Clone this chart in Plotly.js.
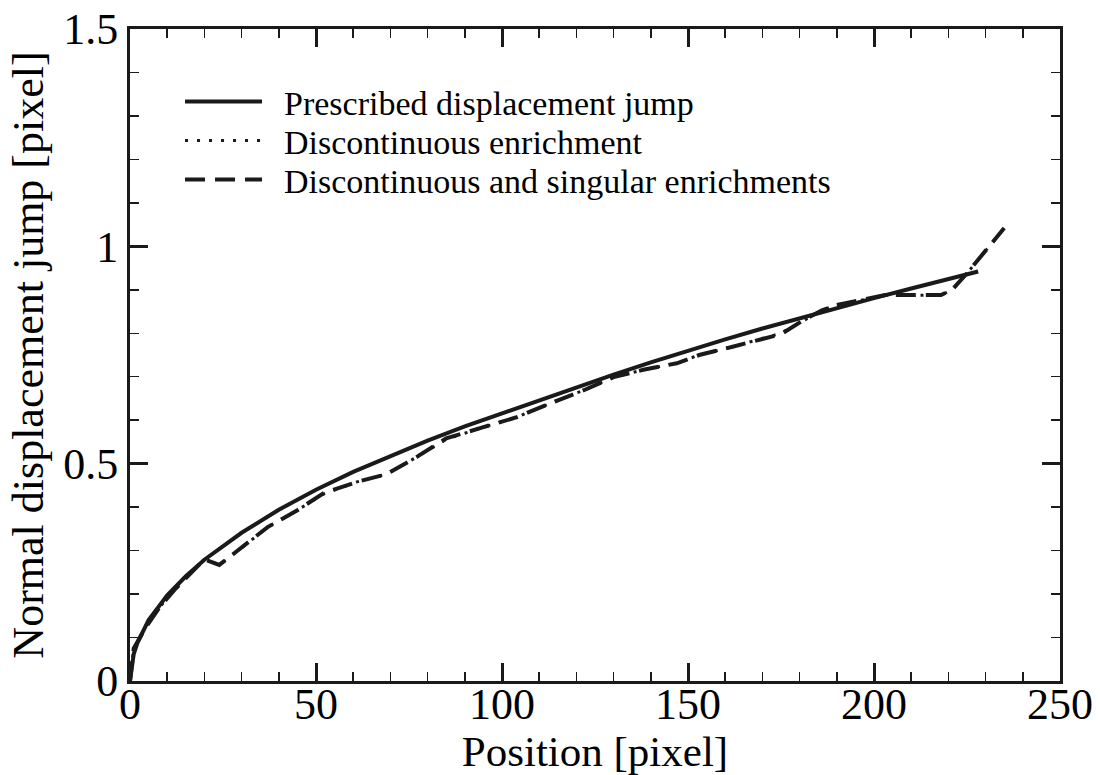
<!DOCTYPE html>
<html>
<head>
<meta charset="utf-8">
<script src="https://cdn.plot.ly/plotly-3.0.1.min.js"></script>
<style>html,body{margin:0;padding:0;background:#fff;}#chart{width:1100px;height:775px;}</style>
</head>
<body>
<div id="chart"></div>
<script>
// Prescribed displacement jump (solid)
const prescribedX = [0, 1, 2, 5, 10, 15, 20, 30, 40, 50, 60, 70, 80, 90, 100, 110, 120, 130, 140, 150, 160, 170, 180, 190, 200, 210, 220, 228];
const prescribedY = [0, 0.062, 0.088, 0.14, 0.197, 0.241, 0.279, 0.341, 0.394, 0.44, 0.481, 0.518, 0.553, 0.586, 0.616, 0.647, 0.677, 0.705, 0.733, 0.76, 0.786, 0.811, 0.835, 0.858, 0.881, 0.903, 0.924, 0.942];

// Discontinuous enrichment (dotted)
const discX = [0, 1, 4, 8, 12, 16, 20, 24, 30, 37, 45, 52, 61, 69, 77, 85, 95, 104, 113, 122, 130, 138, 147, 153, 162, 175, 181, 186, 190, 203, 218, 221, 225, 235];
const discY = [0, 0.075, 0.12, 0.17, 0.21, 0.245, 0.28, 0.267, 0.306, 0.354, 0.393, 0.43, 0.458, 0.476, 0.515, 0.556, 0.584, 0.607, 0.639, 0.669, 0.699, 0.716, 0.731, 0.75, 0.769, 0.8, 0.83, 0.853, 0.865, 0.887, 0.888, 0.9, 0.938, 1.042];

// Discontinuous and singular enrichments (dashed)
const singX = [0, 1, 4, 8, 12, 16, 20, 24, 30, 37, 45, 52, 61, 69, 77, 85, 95, 104, 113, 122, 130, 138, 147, 153, 162, 175, 181, 186, 190, 203, 218, 221, 225, 235];
const singY = [0, 0.075, 0.12, 0.17, 0.21, 0.245, 0.28, 0.267, 0.306, 0.354, 0.393, 0.432, 0.458, 0.476, 0.515, 0.558, 0.584, 0.607, 0.639, 0.669, 0.699, 0.716, 0.731, 0.75, 0.769, 0.798, 0.83, 0.853, 0.865, 0.888, 0.888, 0.9, 0.938, 1.042];

const seriesNames = ["Prescribed displacement jump", "Discontinuous enrichment", "Discontinuous and singular enrichments"];
const xTicks = [0, 50, 100, 150, 200, 250];
const yTicks = [0, 0.5, 1, 1.5];
const yTickLabels = ["0", "0.5", "1", "1.5"];

const ink = "#1a1a1a";
const font = "Liberation Serif";
const pad = "\u00a0\u00a0";

const traces = [
  {x: prescribedX, y: prescribedY, name: pad + seriesNames[0], legend: "legend", mode: "lines", line: {color: ink, width: 4, dash: "solid"}},
  {x: discX, y: discY, name: pad + seriesNames[1], legend: "legend2", mode: "lines", line: {color: ink, width: 3, dash: "3px,9px"}},
  {x: singX, y: singY, name: pad + seriesNames[2], legend: "legend3", mode: "lines", line: {color: ink, width: 4, dash: "20px,10px"}}
];

const axisCommon = {
  showgrid: false, zeroline: false, showline: true, linecolor: ink, linewidth: 3,
  mirror: "ticks", ticks: "inside", ticklen: 18, tickwidth: 3, tickcolor: ink,
  tickfont: {family: font, size: 44, color: "#000"},
  minor: {ticks: "inside", ticklen: 9, tickwidth: 1.5, tickcolor: ink}
};

function legendAt(yPos) {
  return {x: 0.0538, y: yPos, xanchor: "left", yanchor: "middle", bgcolor: "rgba(0,0,0,0)",
    borderwidth: 0, font: {family: font, size: 34, color: "#000"}, itemwidth: 77};
}

const layout = {
  width: 1100, height: 775,
  margin: {l: 130, r: 40, t: 29, b: 94},
  paper_bgcolor: "#fff", plot_bgcolor: "#fff",
  showlegend: true,
  legend: legendAt(0.8880),
  legend2: legendAt(0.8282),
  legend3: legendAt(0.7684),
  xaxis: Object.assign({}, axisCommon, {
    range: [0, 250], tickvals: xTicks, ticktext: xTicks.map(String),
    ticklabelstandoff: -18,
    minor: Object.assign({}, axisCommon.minor, {dtick: 10}),
    title: {text: "Position [pixel]", font: {family: font, size: 43, color: "#000"}, standoff: 13}
  }),
  yaxis: Object.assign({}, axisCommon, {
    range: [0, 1.5], tickvals: yTicks, ticktext: yTickLabels,
    minor: Object.assign({}, axisCommon.minor, {dtick: 0.1}),
    title: {text: "Normal displacement jump [pixel]", font: {family: font, size: 44, color: "#000"}, standoff: 6}
  })
};

Plotly.newPlot("chart", traces, layout, {displayModeBar: false, staticPlot: true});
</script>
</body>
</html>
